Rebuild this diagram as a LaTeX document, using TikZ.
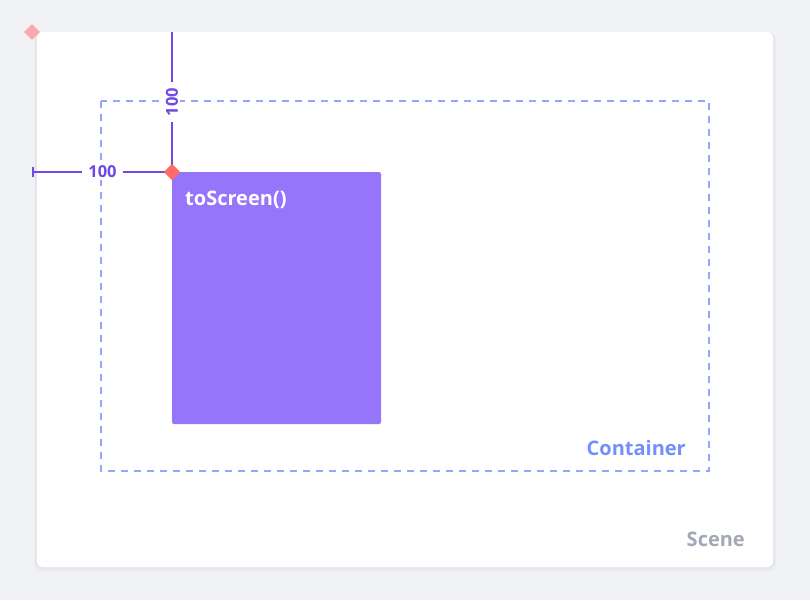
\documentclass[tikz,border=0pt]{standalone}
\usepackage{fontspec}
\setmainfont{Open Sans}
\usetikzlibrary{positioning}
\definecolor{bgcol}{HTML}{F1F2F6}
\definecolor{measurecol}{HTML}{7048E8}
\definecolor{spritecol}{HTML}{9775FA}
\definecolor{containercol}{HTML}{91A7FF}
\definecolor{containertext}{HTML}{748FFC}
\definecolor{scenetext}{HTML}{A3A8B6}
\definecolor{origincol}{HTML}{FF6B6B}
\definecolor{sceneorigincol}{HTML}{FFA8A8}
\tikzset{
  pivot/.style={fill=#1,rotate=45,minimum size=11.3pt,inner sep=0pt},
  measure/.style={measurecol,line width=2pt},
  measurelabel/.style={fill=white,text=measurecol,font=\fontsize{16.5}{16.5}\selectfont\bfseries,inner xsep=6pt,inner ysep=2pt},
  caption/.style={inner sep=0pt,font=\fontsize{20}{20}\selectfont\bfseries}
}
\begin{document}
\begin{tikzpicture}[x=1pt,y=-1pt]
        \useasboundingbox (0,0) rectangle (810,600);
        \fill[bgcol] (0,0) rectangle (810,600);
        %% Scene
        \fill[black,opacity=0.025,rounded corners=7pt] (34,33) rectangle (776,572);
        \fill[black,opacity=0.025,rounded corners=7pt] (35,32) rectangle (775,569);
        \fill[white,rounded corners=6pt] (37,32) rectangle (773,567);
        \node[caption,anchor=base east,text=scenetext] (scene) at (745,546) {Scene};
        %% Container
        \draw[containercol,line width=1.5pt,dash pattern=on 7pt off 6pt] (101,101) rectangle (709,471);
        \node[caption,anchor=base east,text=containertext] (container) at (686,455) {Container};
        %% Sprite
        \fill[spritecol,rounded corners=2pt] (172,172) rectangle (381,424);
        \node[caption,anchor=base west,text=white] (sprite) at (185,205) {toScreen()};
        %% Offsets
        \coordinate (left) at (33,172);
        \coordinate (top) at (172,32);
        \node[pivot=origincol] (origin) at (172,172) {};
        \draw[measure] (left) -- (origin.center) node[measurelabel,pos=0.5] (dx) {100};
        \draw[measure] (33,167) -- (33,177);
        \draw[measure] (top) -- (origin.center) node[measurelabel,pos=0.5,rotate=90] (dy) {100};
        \node[pivot=origincol] at (origin) {};
        %% Scene origin
        \node[pivot=sceneorigincol] (sceneorigin) at (32,32) {};
    \end{tikzpicture}
\end{document}
